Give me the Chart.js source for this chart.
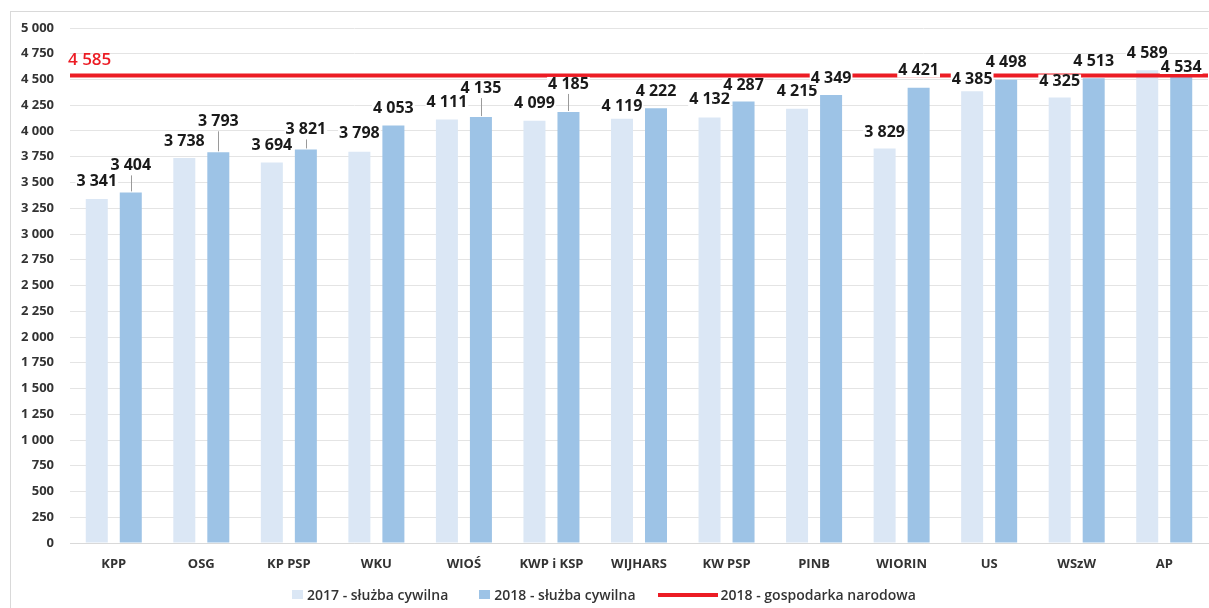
<!DOCTYPE html>
<html>
<head>
<meta charset="utf-8">
<title>Przeciętne wynagrodzenie 2017-2018</title>
<script src="https://cdn.jsdelivr.net/npm/chart.js"></script>
<style>
  html, body { margin: 0; padding: 0; background: #fff; }
  body { width: 1209px; height: 608px; overflow: hidden; position: relative; font-family: 'Open Sans', sans-serif; }
  .frame { position: absolute; left: 10px; top: 11px; width: 1240px; height: 640px; border: 1px solid #d9d9d9; }
  .chart-box { position: absolute; left: 0; top: 0; width: 1209px; height: 608px; }
  .legend { position: absolute; left: 292px; top: 585px; display: flex; align-items: center; font-size: 14px; font-weight: 600; color: #333; white-space: nowrap; }
  .legend .item { display: flex; align-items: center; }
  .legend .item:nth-child(1) { margin-right: 31px; }
  .legend .item:nth-child(2) { margin-right: 22px; }
  .legend .box { width: 11px; height: 9px; margin-right: 4px; }
  .legend .line { width: 60px; height: 4px; margin-right: 3px; }
</style>
</head>
<body>
  <div class="frame"></div>
  <div class="chart-box"><canvas id="chart" width="1209" height="608"></canvas></div>
  <div class="legend" id="legend"></div>
<script>
  // Dane
  const categories = ['KPP', 'OSG', 'KP PSP', 'WKU', 'WIOŚ', 'KWP i KSP', 'WIJHARS', 'KW PSP', 'PINB', 'WIORIN', 'US', 'WSzW', 'AP'];
  const civil2017 = [3341, 3738, 3694, 3798, 4111, 4099, 4119, 4132, 4215, 3829, 4385, 4325, 4589];
  const civil2018 = [3404, 3793, 3821, 4053, 4135, 4185, 4222, 4287, 4349, 4421, 4498, 4513, 4534];
  const economyValue = 4540;   // polozenie linii na wykresie
  const economyLabel = '4 585';
  const seriesNames = ['2017 - służba cywilna', '2018 - służba cywilna', '2018 - gospodarka narodowa'];

  const colors = ['#dbe7f5', '#9dc3e6', '#ec1c24'];

  // odleglosc etykiety nad slupkiem (px)
  const lift2017 = [17, 17, 17, 18, 17, 17, 12, 18, 17, 16, 12, 16, 17];
  const lift2018 = [27, 31, 20, 17, 29, 28, 17, 16, 17, 17, 17, 17, 9];

  function fmt(v) {
    return String(v).replace(/\B(?=(\d{3})+(?!\d))/g, ' ');
  }

  // linia gospodarki narodowej + etykiety wartosci
  const labelPlugin = {
    id: 'valueLabels',
    afterDatasetsDraw(chart) {
      const ctx = chart.ctx;
      const area = chart.chartArea;
      const ly = chart.scales.y.getPixelForValue(economyValue);
      ctx.save();
      ctx.strokeStyle = colors[2];
      ctx.lineWidth = 4;
      ctx.beginPath();
      ctx.moveTo(area.left, ly);
      ctx.lineTo(area.right, ly);
      ctx.stroke();

      ctx.font = '700 16px "Open Sans"';
      ctx.textAlign = 'center';
      ctx.textBaseline = 'middle';
      [0, 1].forEach(di => {
        const meta = chart.getDatasetMeta(di);
        const lifts = di === 0 ? lift2017 : lift2018;
        meta.data.forEach((bar, i) => {
          const txt = fmt(chart.data.datasets[di].data[i]);
          const y = bar.y - lifts[i];
          const w = ctx.measureText(txt).width;
          ctx.fillStyle = '#fff';
          ctx.fillRect(bar.x - w / 2 - 1, y - 7, w + 2, 14);
          if (lifts[i] > 19) {
            ctx.strokeStyle = '#9a9a9a';
            ctx.lineWidth = 1;
            ctx.beginPath();
            ctx.moveTo(Math.round(bar.x) + 0.5, y + 10);
            ctx.lineTo(Math.round(bar.x) + 0.5, bar.y - 1);
            ctx.stroke();
          }
          ctx.fillStyle = '#1a1a1a';
          ctx.fillText(txt, bar.x, y);
        });
      });

      ctx.font = '600 17px "Open Sans"';
      ctx.textAlign = 'left';
      ctx.fillStyle = colors[2];
      ctx.fillText(economyLabel, area.left - 2, ly - 15);
      ctx.restore();
    }
  };

  new Chart(document.getElementById('chart'), {
    type: 'bar',
    data: {
      labels: categories,
      datasets: [
        { label: seriesNames[0], data: civil2017, backgroundColor: colors[0], categoryPercentage: 0.777, barPercentage: 0.647 },
        { label: seriesNames[1], data: civil2018, backgroundColor: colors[1], categoryPercentage: 0.777, barPercentage: 0.647 }
      ]
    },
    options: {
      responsive: false,
      animation: false,
      layout: { padding: { left: 0, right: 1, top: 28, bottom: 0 } },
      plugins: { legend: { display: false }, tooltip: { enabled: false } },
      scales: {
        x: {
          grid: { display: false, drawTicks: false },
          border: { color: '#d9d9d9' },
          ticks: { padding: 13, color: '#333', font: { family: 'Open Sans', size: 13, weight: '700' } },
          afterFit: axis => { axis.height = 65; }
        },
        y: {
          min: 0, max: 5000,
          grid: { color: '#e4e4e4', drawTicks: false },
          border: { display: false },
          ticks: { stepSize: 250, padding: 16, color: '#333', font: { family: 'Open Sans', size: 13, weight: '700' }, callback: v => fmt(v) },
          afterFit: axis => { axis.width = 70; }
        }
      }
    },
    plugins: [labelPlugin]
  });

  // Legenda
  const legend = document.getElementById('legend');
  seriesNames.forEach((name, i) => {
    const item = document.createElement('div');
    item.className = 'item';
    const key = document.createElement('span');
    key.className = i === 2 ? 'line' : 'box';
    key.style.background = colors[i];
    item.appendChild(key);
    item.appendChild(document.createTextNode(name));
    legend.appendChild(item);
  });
</script>
</body>
</html>
